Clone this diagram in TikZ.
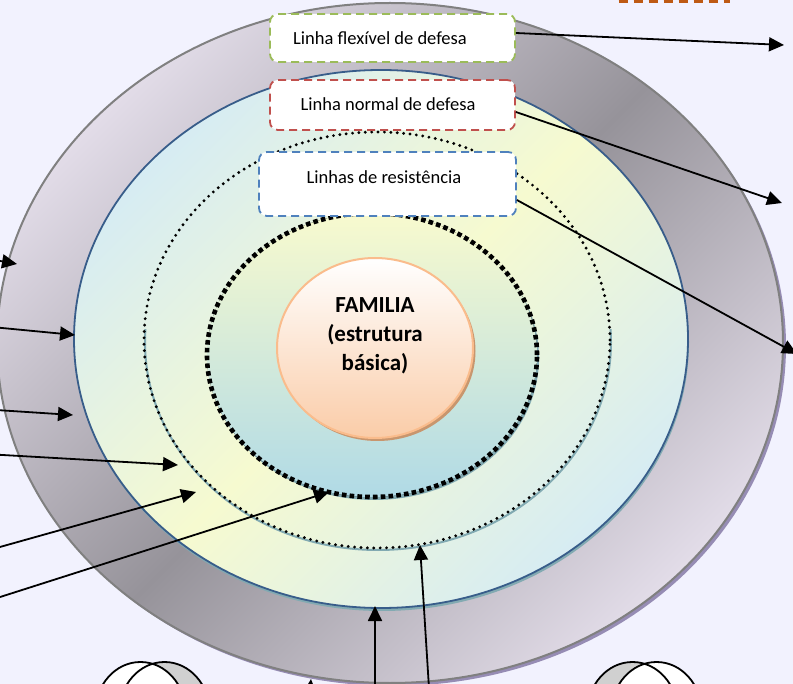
\documentclass[tikz,border=0pt]{standalone}
\usepackage{fontspec}
\setmainfont{Carlito}
\usetikzlibrary{shapes.geometric,arrows.meta}
\definecolor{bgc}{RGB}{242,242,254}
\definecolor{ringlt}{RGB}{226,220,232}
\definecolor{ringdk}{RGB}{150,147,154}
\definecolor{ringln}{RGB}{128,128,128}
\definecolor{ringsh}{RGB}{150,140,180}
\definecolor{cyanc}{RGB}{214,236,243}
\definecolor{yelc}{RGB}{246,250,208}
\definecolor{blueln}{RGB}{56,93,138}
\definecolor{tealsh}{RGB}{130,170,178}
\definecolor{innertop}{RGB}{248,250,206}
\definecolor{innerbot}{RGB}{176,218,230}
\definecolor{fambot}{RGB}{250,204,168}
\definecolor{famln}{RGB}{250,188,140}
\definecolor{famsh}{RGB}{200,150,110}
\definecolor{grn}{RGB}{155,187,89}
\definecolor{rd}{RGB}{192,80,77}
\definecolor{bl}{RGB}{79,129,189}
\definecolor{orng}{RGB}{190,90,20}
\definecolor{tubegray}{RGB}{208,208,208}
\begin{document}
\begin{tikzpicture}[x=1pt,y=-1pt,
  arr/.style={line width=1.8pt,-{Triangle[length=15pt,width=14pt]}},
  boxa/.style={fill=white,rounded corners=8pt,line width=1.8pt,dash pattern=on 8pt off 5pt,inner sep=0pt},
  lbl/.style={font=\fontsize{18.5}{20}\selectfont,inner sep=0pt},
  ell/.style={ellipse,inner sep=0pt},
  tube/.style={draw=black,line width=1.8pt}
]
\useasboundingbox (0,0) rectangle (793,684);
\clip (0,0) rectangle (793,684);
\fill[bgc] (0,0) rectangle (793,684);

% top-right cut box
\draw[orng,line width=3pt,dash pattern=on 9pt off 6pt] (615,-40) rectangle (728,1.5);

% outer ring
\fill[ringsh] (393,346) ellipse [x radius=393pt,y radius=340pt];
\draw[ringln,line width=2pt,top color=ringlt,bottom color=ringlt,middle color=ringdk,shading angle=45]
  (390,343) ellipse [x radius=393pt,y radius=340pt];

% normal line ellipse
\fill[tealsh] (382,342) ellipse [x radius=307pt,y radius=269pt];
\draw[blueln,line width=1.8pt,top color=cyanc,bottom color=cyanc,middle color=yelc,shading angle=45]
  (381,339) ellipse [x radius=307pt,y radius=269pt];

% outer dotted ellipse
\begin{scope}
\clip (0,330) rectangle (793,700);
\draw[tealsh,line width=2pt] (378,342) ellipse [x radius=233pt,y radius=208pt];
\end{scope}
\draw[black,line width=3.2pt,dash pattern=on 0pt off 6.4pt,line cap=round]
  (377,340) ellipse [x radius=233pt,y radius=208pt];

% inner resistance ellipse
\fill[tealsh] (374,358) ellipse [x radius=165pt,y radius=142pt];
\fill[top color=innertop,bottom color=innerbot] (372,355) ellipse [x radius=165pt,y radius=142pt];
\draw[black,line width=4.6pt,dash pattern=on 4.6pt off 3.2pt]
  (372,355) ellipse [x radius=165pt,y radius=142pt];

% FAMILIA
\fill[famsh] (377.5,351) ellipse [x radius=98pt,y radius=90pt];
\node[ell,draw=famln,line width=2pt,minimum width=196pt,minimum height=180pt,top color=white,bottom color=fambot] (fam) at (375,348) {};
\node[align=center,inner sep=0pt,font=\bfseries\fontsize{23}{29}\selectfont] (famtxt) at (375,336) {FAMILIA\\(estrutura\\básica)};

% boxes
\node[boxa,draw=grn,minimum width=245pt,minimum height=48pt] (b1) at (392.5,38) {};
\node[lbl] (t1) at (380,38) {Linha flexível de defesa};
\node[boxa,draw=rd,minimum width=245pt,minimum height=50pt] (b2) at (392.5,105) {};
\node[lbl] (t2) at (388,104) {Linha normal de defesa};
\node[boxa,draw=bl,minimum width=257pt,minimum height=64pt] (b3) at (387.5,184) {};
\node[lbl] (t3) at (384,177) {Linhas de resistência};

% coordinates for connector ends
\coordinate (r1) at (784,45);
\coordinate (r2) at (782,203);
\coordinate (r3) at (797,354);
\coordinate (l1a) at (-50,252); \coordinate (l1b) at (17,264);
\coordinate (l2a) at (-50,323); \coordinate (l2b) at (75,335);
\coordinate (l3a) at (-50,407); \coordinate (l3b) at (73,415);
\coordinate (l4a) at (-50,452); \coordinate (l4b) at (178,465);
\coordinate (l5a) at (-50,561); \coordinate (l5b) at (196,492);
\coordinate (l6a) at (-50,613); \coordinate (l6b) at (329,492);
\coordinate (d1a) at (375,720); \coordinate (d1b) at (375,606);
\coordinate (d2a) at (431,720); \coordinate (d2b) at (420,545);
\coordinate (d3a) at (306,740); \coordinate (d3b) at (311,679);

\draw[arr] ([yshift=5pt]b1.east) -- (r1);
\draw[arr] ([yshift=-7pt]b2.east) -- (r2);
\draw[arr] ([yshift=-16pt]b3.east) -- (r3);
\draw[arr] (l1a) -- (l1b);
\draw[arr] (l2a) -- (l2b);
\draw[arr] (l3a) -- (l3b);
\draw[arr] (l4a) -- (l4b);
\draw[arr] (l5a) -- (l5b);
\draw[arr] (l6a) -- (l6b);
\draw[arr] (d1a) -- (d1b);
\draw[arr] (d2a) -- (d2b);
\draw[arr] (d3a) -- (d3b);

% tubes at bottom
\fill[tubegray] (164.5,712) ellipse [x radius=45pt,y radius=50pt];
\fill[white] (140.5,712) ellipse [x radius=45pt,y radius=50pt];
\draw[tube] (164.5,712) ellipse [x radius=45pt,y radius=50pt];
\draw[tube] (140.5,712) ellipse [x radius=45pt,y radius=50pt];
\fill[tubegray] (632.5,712) ellipse [x radius=45pt,y radius=50pt];
\fill[white] (656.5,712) ellipse [x radius=45pt,y radius=50pt];
\draw[tube] (632.5,712) ellipse [x radius=45pt,y radius=50pt];
\draw[tube] (656.5,712) ellipse [x radius=45pt,y radius=50pt];
\end{tikzpicture}
\end{document}
